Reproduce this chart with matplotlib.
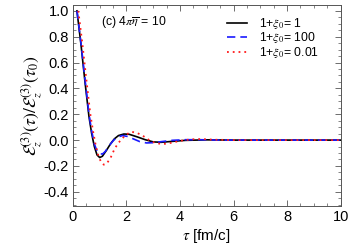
import numpy as np
import matplotlib
matplotlib.use("Agg")
import matplotlib.pyplot as plt
from matplotlib.ticker import MultipleLocator, FormatStrFormatter

plt.rcParams['font.family'] = ['Liberation Sans', 'DejaVu Sans']
plt.rcParams['mathtext.fontset'] = 'stix'

# values
tau_xi1 = [0.15, 0.3, 0.45, 0.6, 0.7, 0.8, 0.9, 1.0, 1.1, 1.25, 1.4, 1.55, 1.7, 1.9,
           2.1, 2.4, 2.7, 3.0, 3.3, 3.7, 4.2, 5.0, 6.0, 10.0]
e_xi1 = [1.0, 0.74, 0.45, 0.18, 0.05, -0.05, -0.115, -0.135, -0.125, -0.08, -0.03, 0.01,
         0.035, 0.047, 0.045, 0.025, 0.003, -0.014, -0.017, -0.01, -0.002, 0.002, 0.0, 0.0]

tau_xi100 = [0.15, 0.3, 0.45, 0.6, 0.7, 0.8, 0.9, 1.0, 1.1, 1.2, 1.35, 1.5, 1.65, 1.85,
             2.05, 2.25, 2.5, 2.75, 3.0, 3.3, 3.7, 4.2, 4.7, 5.5, 10.0]
e_xi100 = [1.0, 0.75, 0.47, 0.2, 0.07, -0.03, -0.085, -0.105, -0.108, -0.09, -0.045, -0.005,
           0.022, 0.035, 0.028, 0.01, -0.012, -0.022, -0.02, -0.012, -0.002, 0.003, 0.003,
           0.0, 0.0]

tau_xi001 = [0.2, 0.35, 0.5, 0.65, 0.75, 0.85, 0.95, 1.05, 1.15, 1.25, 1.4, 1.55, 1.7, 1.8,
             1.9, 2.0, 2.2, 2.4, 2.6, 2.85, 3.1, 3.4, 3.7, 4.0, 4.4, 4.8, 5.3, 6.0, 10.0]
e_xi001 = [1.0, 0.75, 0.47, 0.2, 0.07, -0.04, -0.12, -0.17, -0.19, -0.185, -0.14, -0.07,
           -0.02, 0.0, 0.025, 0.045, 0.064, 0.055, 0.035, 0.0, -0.025, -0.03, -0.02, -0.006,
           0.006, 0.008, 0.003, 0.0, 0.0]

labels = [r'1+$\xi_0$= 1', r'1+$\xi_0$= 100', r'1+$\xi_0$= 0.01']

fig = plt.figure(figsize=(3.49, 2.52), dpi=100)
ax = fig.add_axes([0.209, 0.1825, 0.767, 0.7975])

ax.plot(tau_xi1, e_xi1, color='black', lw=1.2, label=labels[0])
ax.plot(tau_xi100, e_xi100, color='#1a1aff', lw=1.2, dashes=(5, 3), label=labels[1])
ax.plot(tau_xi001, e_xi001, color='#ff1a1a', lw=1.3, dashes=(1, 2.2), label=labels[2])

ax.set_xlim(0, 10)
ax.set_ylim(-0.51, 1.045)
ax.xaxis.set_major_locator(MultipleLocator(2))
ax.xaxis.set_minor_locator(MultipleLocator(0.5))
ax.yaxis.set_major_locator(MultipleLocator(0.2))
ax.yaxis.set_minor_locator(MultipleLocator(0.05))
ax.yaxis.set_major_formatter(FormatStrFormatter('%.1f'))
ax.set_yticks([-0.4, -0.2, 0.0, 0.2, 0.4, 0.6, 0.8, 1.0])
ax.tick_params(which='both', direction='in', top=True, right=True, labelsize=10.5,
               color='#555555', pad=3)
ax.tick_params(which='major', length=4, width=0.6)
ax.tick_params(which='minor', length=2, width=0.5)
for s in ax.spines.values():
    s.set_color('#555555')
    s.set_linewidth(0.7)

ax.set_xlabel(r'$\tau$ [fm/c]', fontsize=11, labelpad=2)
ax.set_ylabel(r'$\mathcal{E}_z^{(3)}(\tau)/\mathcal{E}_z^{(3)}(\tau_0)$', fontsize=12.5, labelpad=0)

ax.text(0.105, 0.915, r'(c) 4$\pi\overline{\eta}$ = 10', transform=ax.transAxes, fontsize=8.8,
        va='center', ha='left')

ax.legend(loc='upper left', bbox_to_anchor=(0.574, 0.945), frameon=False, fontsize=8.8,
          borderpad=0, borderaxespad=0, labelspacing=-0.05, handlelength=1.7,
          handletextpad=0.95)

fig.savefig('out.png', dpi=100)
